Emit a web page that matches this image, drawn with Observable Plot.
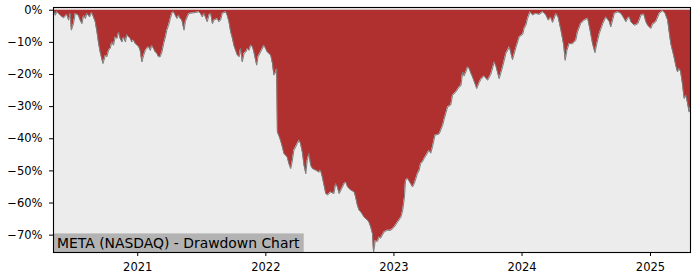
<!DOCTYPE html>
<html>
<head>
<meta charset="utf-8">
<script src="https://cdn.jsdelivr.net/npm/d3@7"></script>
<script src="https://cdn.jsdelivr.net/npm/@observablehq/plot@0.6"></script>
<style>
  html, body { margin: 0; padding: 0; background: white; }
  #chart svg { display: block; }
</style>
</head>
<body>
<div id="chart"></div>
<script>
const title = "META (NASDAQ) - Drawdown Chart";

const dates = [
  "2020-05-06","2020-05-11","2020-05-16","2020-05-25","2020-06-04","2020-06-13","2020-06-18","2020-06-23","2020-06-26","2020-07-02",
  "2020-07-07","2020-07-16","2020-07-21","2020-07-26","2020-07-31","2020-08-05","2020-08-09","2020-08-17","2020-08-23","2020-08-28",
  "2020-09-02","2020-09-07","2020-09-11","2020-09-16","2020-09-24","2020-10-01","2020-10-05","2020-10-10","2020-10-15","2020-10-19",
  "2020-10-24","2020-10-29","2020-11-03","2020-11-08","2020-11-12","2020-11-17","2020-11-22","2020-11-27","2020-12-01","2020-12-06",
  "2020-12-11","2020-12-15","2020-12-20","2020-12-25","2020-12-30",
  "2021-01-04","2021-01-08","2021-01-13","2021-01-18","2021-01-23","2021-01-27","2021-02-01","2021-02-06","2021-02-10","2021-02-15",
  "2021-02-20","2021-02-25","2021-03-01","2021-03-06","2021-03-11","2021-03-16","2021-03-21","2021-03-25","2021-03-30","2021-04-04",
  "2021-04-08","2021-04-13","2021-04-18","2021-04-23","2021-04-28","2021-05-02","2021-05-07","2021-05-13","2021-05-17","2021-05-22",
  "2021-05-27","2021-06-10","2021-06-24","2021-06-29","2021-07-04","2021-07-09","2021-07-18","2021-07-23","2021-07-28","2021-08-02",
  "2021-08-06","2021-08-16","2021-08-20","2021-08-25","2021-08-30","2021-09-09","2021-09-13","2021-09-18","2021-09-23","2021-09-28",
  "2021-10-02","2021-10-07","2021-10-12","2021-10-17","2021-10-21","2021-10-26","2021-10-31","2021-11-05","2021-11-10","2021-11-14",
  "2021-11-19","2021-11-24","2021-11-28","2021-12-06","2021-12-10","2021-12-17","2021-12-27",
  "2022-01-05","2022-01-10","2022-01-15","2022-01-20","2022-01-24","2022-01-28","2022-02-01","2022-02-03","2022-02-07","2022-02-12",
  "2022-02-17","2022-02-22","2022-03-03","2022-03-08","2022-03-13","2022-03-17","2022-03-22","2022-04-01","2022-04-06","2022-04-10",
  "2022-04-15","2022-04-20","2022-04-25","2022-04-29","2022-05-04","2022-05-09","2022-05-14","2022-05-23","2022-06-02","2022-06-06",
  "2022-06-11","2022-06-16","2022-06-21","2022-06-26","2022-06-30","2022-07-05","2022-07-14","2022-07-19","2022-07-24","2022-07-29",
  "2022-08-03","2022-08-12","2022-08-17","2022-08-22","2022-08-31","2022-09-10","2022-09-14","2022-09-19","2022-09-24","2022-09-29",
  "2022-10-08","2022-10-18","2022-10-22","2022-10-27","2022-11-01","2022-11-04","2022-11-09","2022-11-15","2022-11-20","2022-11-24",
  "2022-12-04","2022-12-13","2022-12-23",
  "2023-01-02","2023-01-11","2023-01-21","2023-01-26","2023-01-31","2023-02-03","2023-02-09","2023-02-18","2023-02-23","2023-02-28",
  "2023-03-09","2023-03-14","2023-03-18","2023-03-23","2023-03-28","2023-04-11","2023-04-16","2023-04-21","2023-04-28","2023-05-10",
  "2023-05-20","2023-05-24","2023-06-03","2023-06-12","2023-06-17","2023-06-26","2023-07-06","2023-07-11","2023-07-16","2023-07-20",
  "2023-07-25","2023-07-30","2023-08-03","2023-08-08","2023-08-13","2023-08-22","2023-08-25","2023-09-01","2023-09-06","2023-09-15",
  "2023-09-25","2023-10-04","2023-10-14","2023-10-19","2023-10-28","2023-11-07","2023-11-16","2023-11-26","2023-12-05","2023-12-15",
  "2023-12-24",
  "2024-01-03","2024-01-07","2024-01-12","2024-01-17","2024-01-24","2024-01-31","2024-02-09","2024-02-19","2024-02-29","2024-03-09",
  "2024-03-16","2024-03-23","2024-03-28","2024-04-07","2024-04-13","2024-04-21","2024-04-29","2024-05-03","2024-05-08","2024-05-14",
  "2024-05-24","2024-05-29","2024-06-02","2024-06-07","2024-06-16","2024-06-26","2024-07-06","2024-07-13","2024-07-20","2024-07-27",
  "2024-08-01","2024-08-08","2024-08-18","2024-08-27","2024-09-06","2024-09-10","2024-09-20","2024-09-30","2024-10-09","2024-10-18",
  "2024-10-23","2024-10-28","2024-11-02","2024-11-06","2024-11-16","2024-11-26","2024-12-05","2024-12-13","2024-12-19","2024-12-24",
  "2025-01-02","2025-01-07","2025-01-16","2025-01-26","2025-02-04","2025-02-11","2025-02-19","2025-02-23","2025-02-28","2025-03-09",
  "2025-03-14","2025-03-19","2025-03-24","2025-03-28","2025-04-02","2025-04-07","2025-04-12","2025-04-17","2025-04-21","2025-04-25"
];

const drawdown = [
  0,-1.6,-0.5,-1.6,-2.4,-1.3,-3.1,-1.0,-6.2,-4.2,
  -1.0,-1.6,-3.1,-4.2,-1.6,-2.6,-1.0,-2.1,-0.7,-2.1,
  -3.6,-6.8,-9.9,-13,-16.6,-14,-14.5,-12.5,-11.9,-9.9,
  -10.9,-8.3,-8.8,-6.8,-8.8,-9.9,-8.3,-9.9,-7.6,-8.3,
  -8.8,-9.9,-9.3,-10.4,-10.9,
  -11.4,-12.5,-16.1,-14,-12.5,-11.9,-11.4,-12.5,-10.9,-11.9,
  -13,-13.5,-14.5,-14.5,-13,-10.4,-8.3,-6.2,-4.7,-2.6,
  -1.0,-0.5,-1.6,-2.6,-1.6,-2.6,-3.1,-6.2,-3.5,-2.1,
  -1.0,-0.8,-0.5,-1.0,-2.1,-1.0,-3.6,-1.6,-1.0,-4.2,
  -3.1,-2.6,-3.6,-3.1,-1.0,-0.5,-1.6,-3.6,-6.8,-8.8,
  -10.9,-12.5,-14,-14.5,-11.9,-16.1,-13.5,-13,-11.9,-12.5,
  -10.9,-11.4,-13,-17.1,-14.5,-13,-10.9,
  -13,-13.5,-14,-16.6,-20.2,-19.5,-18.2,-37.9,-39,-40.5,
  -42.5,-44.7,-45.7,-47.8,-49.3,-47.2,-43.6,-41.5,-40.5,-41.5,
  -44.1,-48.3,-50.9,-46.7,-44.7,-48.3,-49.3,-49.8,-50.4,-49.8,
  -51.9,-54.5,-57.1,-57.5,-57.1,-56.6,-57.1,-54,-55,-57.1,
  -56,-54,-53.5,-55,-56,-56.6,-58.2,-60.7,-62.3,-62.8,
  -64.4,-65.4,-66,-67.5,-69.6,-75.3,-71.7,-72,-70.6,-71,
  -69,-68.5,-68.5,
  -67.5,-66,-64.4,-62.3,-58.2,-53,-52.4,-54,-55,-54,
  -50.9,-49.8,-47.8,-47.2,-46.2,-43.6,-44.5,-42.5,-38.9,-38.5,
  -35.8,-34,-30.1,-29.5,-26.5,-25.5,-23.9,-23.5,-19.2,-20.5,
  -19.2,-17.7,-18,-19.5,-20.8,-23.4,-24.4,-22.5,-21.5,-20.5,
  -21.8,-20,-16.1,-17.5,-21.3,-17.5,-13.5,-11.4,-15.4,-11.5,
  -8.3,
  -7.5,-5.7,-4.7,-2.5,-0.5,-1.5,-1.0,-1.3,-0.5,-1.5,
  -3.1,-2.2,-3.8,-1.0,-2.2,-6.2,-11,-15.6,-12.5,-10.4,
  -10.4,-9.9,-9.4,-6.8,-4.2,-3.1,-2.5,-6.2,-10.4,-13.2,
  -10.5,-7.3,-4.2,-2.1,-3.6,-5.2,-1.0,-0.5,-1.0,-2.6,
  -3.6,-2.6,-2.1,-3.6,-4.7,-4.2,-1.6,-1.2,-3.6,-4.7,
  -5.7,-4.4,-3.6,-1.0,-0.2,-0.8,-3.1,-6.5,-10.4,-14.5,
  -17.1,-19.2,-18.2,-19.2,-22.8,-27.5,-26.5,-29.1,-31.7,-30.1
];

const yTicks = [0, -10, -20, -30, -40, -50, -60, -70];
const xTickLabels = ["2021", "2022", "2023", "2024", "2025"];

const data = dates.map((d, i) => ({date: new Date(d + "T00:00:00Z"), dd: drawdown[i]}));
const xTicks = xTickLabels.map(y => new Date(y + "-01-01T00:00:00Z"));

const fmtPct = v => (v < 0 ? "\u2212" + Math.abs(v) : String(v)) + "%";

const W = 700, H = 280, mB = 28;

const chart = Plot.plot({
  width: W,
  height: H,
  marginLeft: 53,
  marginRight: 10,
  marginTop: 7,
  marginBottom: mB,
  style: {fontFamily: "DejaVu Sans", fontSize: "11.5px", color: "black", background: "white", overflow: "visible"},
  x: {type: "utc", domain: [data[0].date, data[data.length - 1].date]},
  y: {domain: [-75.4, 0.85]},
  marks: [
    Plot.frame({fill: "#ececec", stroke: null}),
    Plot.areaY(data, {x: "date", y: "dd", fill: "#b03030", clip: true}),
    Plot.lineY(data, {x: "date", y: "dd", stroke: "#7d7d7d", strokeWidth: 1, clip: true}),
    Plot.axisX({ticks: xTicks, tickFormat: d3.utcFormat("%Y"), tickSize: 4, tickPadding: 6.5, label: null, fontSize: 11.5}),
    Plot.axisY({ticks: yTicks, tickFormat: fmtPct, tickSize: 4, tickPadding: 7, label: null, fontSize: 11.5}),
    Plot.text([title], {frameAnchor: "bottom-left", textAnchor: "start", lineAnchor: "bottom", dx: 3.6, fontSize: 13.9, fill: "black"}),
    Plot.frame({stroke: "black", strokeWidth: 1.1})
  ]
});

document.getElementById("chart").appendChild(chart);

// grey box behind the title label, sized from the rendered text and
// settled so that the box sits on the bottom edge of the frame
const label = Array.from(chart.querySelectorAll("text")).find(t => t.textContent === title);
if (label) {
  const svgBox = chart.getBoundingClientRect();
  const r = label.getBoundingClientRect();
  const padX = 3.6, padY = 1.3;
  const x0 = r.left - svgBox.left - padX;
  const y0 = r.top - svgBox.top - padY;
  const w = r.width + 2 * padX;
  const h = r.height + 2 * padY;
  const frameBottom = H - mB;
  const delta = frameBottom - (y0 + h);
  // top-level group of the label inside the svg
  let top = label;
  while (top.parentNode && top.parentNode !== chart) top = top.parentNode;
  const wrap = document.createElementNS("http://www.w3.org/2000/svg", "g");
  wrap.setAttribute("transform", `translate(0,${delta})`);
  const rect = document.createElementNS("http://www.w3.org/2000/svg", "rect");
  rect.setAttribute("x", x0);
  rect.setAttribute("y", y0);
  rect.setAttribute("width", w);
  rect.setAttribute("height", h);
  rect.setAttribute("fill", "#b3b3b3");
  chart.insertBefore(wrap, top);
  wrap.appendChild(rect);
  wrap.appendChild(top);
}
</script>
</body>
</html>
